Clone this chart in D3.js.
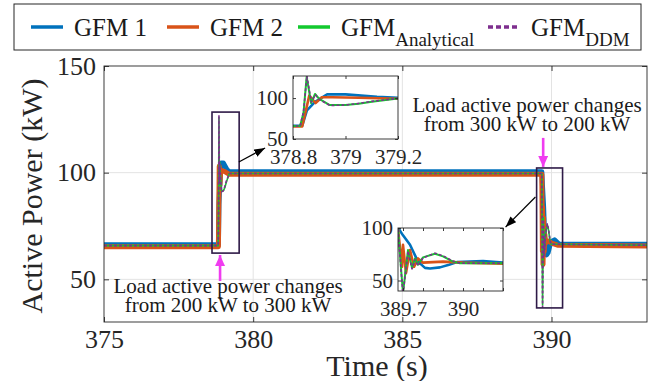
<!DOCTYPE html>
<html><head><meta charset="utf-8">
<script src="https://cdn.jsdelivr.net/npm/d3@7"></script>
<style>
body{margin:0;background:#fff}
svg{display:block}
svg text{font-family:'Liberation Serif',serif}
</style>
</head><body><svg id="c" width="656" height="381" style="font-family:'Liberation Serif',serif"></svg>
<script>
// ---------------- DATA ----------------
const seriesNames = ["GFM 1", "GFM 2", "GFM", "GFM"];
const seriesSubs  = ["", "", "Analytical", "DDM"];
const xTicks = [375, 380, 385, 390];
const yTicks = [50, 100, 150];
const inset1XTicks = [378.8, 379, 379.2];
const inset1YTicks = [50, 100];
const inset2XTicks = [389.7, 389.8, 389.9, 390, 390.1, 390.2];
const inset2XLabels = [389.7, 390];
const inset2YTicks = [50, 100];

// [time (s), active power (kW)]
const gfm1 = [[375,66.2],[378.835,66.2],[378.853,85],[378.884,95.5],[378.93,104.5],[379.0,104.5],[379.06,103],[379.12,101.5],[379.2,100.4],[389.675,100.4],[389.7,93],[389.735,84],[389.775,68],[389.81,62],[389.835,61.5],[389.885,62.5],[389.93,65],[389.97,67.5],[390.1,68.5],[390.25,66.5],[393.2,66.5]];
const gfm2 = [[375,65.3],[378.835,65.3],[378.862,103],[378.886,94],[378.91,101],[378.95,101],[379.05,100.5],[379.2,99.2],[389.675,99.2],[389.695,63],[389.70,84],[389.715,57],[389.735,79],[389.755,63],[389.775,71],[389.8,67],[389.85,67.5],[389.9,68],[390.0,67],[390.2,66],[393.2,65.6]];
const gfmAnalytical = [[375,65.8],[378.827,65.8],[378.84,82],[378.852,126],[378.869,94],[378.884,105],[378.9,99],[378.94,91.5],[379.0,91.5],[379.05,93],[379.1,95.5],[379.2,99.6],[389.675,99.6],[389.69,62],[389.70,38],[389.725,79],[389.745,62],[389.76,71],[389.775,65],[389.8,72],[389.86,75.5],[389.9,73],[389.95,68],[389.985,66.5],[393.2,66]];
const gfmDDM = [[375,65.8],[378.827,65.8],[378.84,83],[378.853,127],[378.87,95],[378.885,104],[378.9,98.5],[378.94,91],[379.0,91.5],[379.05,93.5],[379.1,96],[379.2,99.6],[389.675,99.6],[389.69,60],[389.70,37],[389.725,78],[389.745,61],[389.76,70],[389.775,64],[389.8,71.5],[389.86,76],[389.9,73.5],[389.95,68.5],[389.985,66.5],[393.2,66]];

// highlight boxes [t0, t1, P0, P1] and annotation positions (data units)
const box1 = [378.62, 379.53, 62.3, 128.4];
const box2 = [389.50, 390.37, 36.6, 102.2];
const magArrow1 = [[378.89, 49.2], [378.89, 61.4]];
const magArrow2 = [[389.72, 116.3], [389.72, 102.7]];
const blkArrow1 = [[379.52, 105], [380.4, 111.6]];
const blkArrow2 = [[389.46, 88.6], [388.46, 74.5]];
const note1 = ["Load active power changes", "from 200 kW to 300 kW"];
const note2 = ["Load active power changes", "from 300 kW to 200 kW"];
const note1Pos = [379.16, 43.6];
const note2Pos = [389.18, 128.4];

// ---------------- LAYOUT ----------------
const FONT = "'Liberation Serif', serif";
const colors = ["#0072BD", "#D95319", "#12C92E", "#7E2F8E"];
const series = [gfm1, gfm2, gfmAnalytical, gfmDDM];
const axisColor = "#262626";
const svg = d3.select("#c");

const M = {l: 104, r: 647, t: 66, b: 322};
const x = d3.scaleLinear().domain([375, 393.2]).range([M.l, M.r]);
const y = d3.scaleLinear().domain([30, 150]).range([M.b, M.t]);

const defs = svg.append("defs");
defs.append("clipPath").attr("id", "clipMain").append("rect")
  .attr("x", M.l).attr("y", M.t).attr("width", M.r - M.l).attr("height", M.b - M.t);
function marker(id, color, w, h) {
  defs.append("marker").attr("id", id).attr("viewBox", `0 0 ${w} ${h}`)
    .attr("refX", w).attr("refY", h / 2).attr("markerWidth", w).attr("markerHeight", h)
    .attr("markerUnits", "userSpaceOnUse").attr("orient", "auto")
    .append("path").attr("d", `M0,0L${w},${h/2}L0,${h}Z`).attr("fill", color);
}
marker("mBlack", "#000", 11, 8);
marker("mMag", "#F03CF0", 11, 10);

function setFont(sel, size) {
  sel.attr("font-family", "Liberation Serif").style("font-family", FONT).style("font-size", size);
  return sel;
}

// grid
svg.append("g").selectAll("line").data(xTicks.filter(d => d > 375)).join("line")
  .attr("x1", d => x(d)).attr("x2", d => x(d)).attr("y1", M.t).attr("y2", M.b)
  .attr("stroke", "#e3e3e3").attr("stroke-width", 1);
svg.append("g").selectAll("line").data(yTicks.filter(d => d < 150)).join("line")
  .attr("y1", d => y(d)).attr("y2", d => y(d)).attr("x1", M.l).attr("x2", M.r)
  .attr("stroke", "#e3e3e3").attr("stroke-width", 1);

// data (main)
const mainWidths = [5, 5, 1.6, 1.6];
const dashes = [null, null, null, "3,2"];
const gMain = svg.append("g").attr("clip-path", "url(#clipMain)");
function drawSeries(g, xs, ys, widths) {
  const line = d3.line().x(d => xs(d[0])).y(d => ys(d[1]));
  series.forEach((s, i) => {
    g.append("path").datum(s).attr("d", line).attr("fill", "none")
      .attr("stroke", colors[i]).attr("stroke-width", widths[i])
      .attr("stroke-linejoin", "round")
      .attr("stroke-dasharray", dashes[i]);
  });
}
drawSeries(gMain, x, y, mainWidths);

// axes
function axes(g, xs, ys, xt, yt, tickLen, fs, xLabelSet, padX, padY) {
  const [x0, x1] = xs.range(), [y0, y1] = ys.range();
  const fmtX = d => (xLabelSet ? (xLabelSet.includes(d) ? d3.format("")(d) : "") : d3.format("")(d));
  const style = a => {
    a.select(".domain").remove();
    a.attr("font-family", "Liberation Serif").attr("font-size", fs);
    a.selectAll(".tick line").attr("stroke", axisColor).attr("stroke-width", 0.9);
    setFont(a.selectAll(".tick text"), fs).attr("fill", axisColor);
  };
  g.append("g").attr("transform", `translate(0,${y0})`)
    .call(d3.axisBottom(xs).tickValues(xt).tickSizeInner(-tickLen).tickSizeOuter(0).tickPadding(padX).tickFormat(fmtX)).call(style);
  g.append("g").attr("transform", `translate(0,${y1})`)
    .call(d3.axisTop(xs).tickValues(xt).tickSizeInner(-tickLen).tickSizeOuter(0).tickFormat("")).call(style);
  g.append("g").attr("transform", `translate(${x0},0)`)
    .call(d3.axisLeft(ys).tickValues(yt).tickSizeInner(-tickLen).tickSizeOuter(0).tickPadding(padY).tickFormat(d3.format(""))).call(style);
  g.append("g").attr("transform", `translate(${x1},0)`)
    .call(d3.axisRight(ys).tickValues(yt).tickSizeInner(-tickLen).tickSizeOuter(0).tickFormat("")).call(style);
  g.append("rect").attr("x", x0).attr("y", y1).attr("width", x1 - x0).attr("height", y0 - y1)
    .attr("fill", "none").attr("stroke", axisColor).attr("stroke-width", 0.9);
}
const gAx = svg.append("g");
axes(gAx, x, y, xTicks, yTicks, 5, "26px", null, 8, 8);

// highlight boxes
[box1, box2].forEach(b => {
  svg.append("rect").attr("x", x(b[0])).attr("y", y(b[3]))
    .attr("width", x(b[1]) - x(b[0])).attr("height", y(b[2]) - y(b[3]))
    .attr("fill", "none").attr("stroke", "#2E1A47").attr("stroke-width", 1.6);
});

// insets
function inset(id, px, py, xd, yd, xt, yt, xLabels) {
  const xs = d3.scaleLinear().domain(xd).range(px);
  const ys = d3.scaleLinear().domain(yd).range(py);
  const g = svg.append("g");
  g.append("rect").attr("x", px[0]).attr("y", py[1]).attr("width", px[1] - px[0]).attr("height", py[0] - py[1]).attr("fill", "#fff");
  defs.append("clipPath").attr("id", id).append("rect")
    .attr("x", px[0]).attr("y", py[1]).attr("width", px[1] - px[0]).attr("height", py[0] - py[1]);
  const gd = g.append("g").attr("clip-path", `url(#${id})`);
  drawSeries(gd, xs, ys, [2.6, 2.6, 2.0, 1.6]);
  axes(g, xs, ys, xt, yt, 3, "21px", xLabels, 10, 5);
}
inset("clipIn1", [293, 398], [139, 76], [378.8, 379.2], [50, 127], inset1XTicks, inset1YTicks, null);
inset("clipIn2", [398, 503], [291, 228], [389.675, 390.2], [40, 100], inset2XTicks, inset2YTicks, inset2XLabels);

// arrows
[blkArrow1, blkArrow2].forEach(a => {
  svg.append("line").attr("x1", x(a[0][0])).attr("y1", y(a[0][1]))
    .attr("x2", x(a[1][0])).attr("y2", y(a[1][1]))
    .attr("stroke", "#000").attr("stroke-width", 1.2).attr("marker-end", "url(#mBlack)");
});
[magArrow1, magArrow2].forEach(a => {
  svg.append("line").attr("x1", x(a[0][0])).attr("y1", y(a[0][1]))
    .attr("x2", x(a[1][0])).attr("y2", y(a[1][1]))
    .attr("stroke", "#F03CF0").attr("stroke-width", 2.6).attr("marker-end", "url(#mMag)");
});

// notes
[[note1, note1Pos], [note2, note2Pos]].forEach(([lines, pos]) => {
  const t = setFont(svg.append("text").attr("text-anchor", "middle"), "21px").attr("fill", "#1a1a1a");
  lines.forEach((s, i) => t.append("tspan").attr("x", x(pos[0])).attr("y", y(pos[1]) + i * 19).text(s));
});

// axis titles
setFont(svg.append("text").attr("x", 377).attr("y", 376).attr("text-anchor", "middle"), "30px")
  .attr("fill", axisColor).text("Time (s)");
setFont(svg.append("text").attr("transform", "translate(42,196) rotate(-90)").attr("text-anchor", "middle"), "30px")
  .attr("fill", axisColor).text("Active Power (kW)");

// legend
const lg = svg.append("g");
lg.append("rect").attr("x", 14).attr("y", 4).attr("width", 627).attr("height", 46)
  .attr("fill", "#fff").attr("stroke", axisColor).attr("stroke-width", 1);
const legX = [31, 167, 298, 488];
seriesNames.forEach((n, i) => {
  lg.append("line").attr("x1", legX[i]).attr("x2", legX[i] + 32).attr("y1", 27).attr("y2", 27)
    .attr("stroke", colors[i]).attr("stroke-width", 3.5).attr("stroke-dasharray", i === 3 ? "5,3" : null);
  const t = setFont(lg.append("text").attr("x", legX[i] + 43).attr("y", 36), "25px")
    .attr("fill", "#1a1a1a").text(n);
  if (seriesSubs[i]) t.append("tspan").style("font-size", "19px").attr("dy", 10).text(seriesSubs[i]);
});
</script>
</body></html>
